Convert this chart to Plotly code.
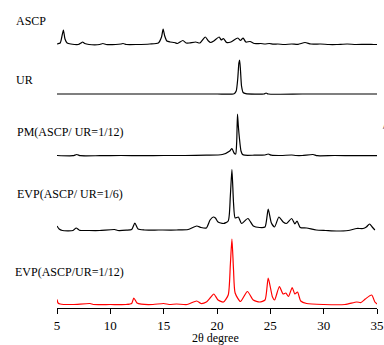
import plotly.graph_objects as go

# 2-theta (degree) and intensity (a.u.)
ascp_x = [5.0, 5.3, 5.45, 5.6, 5.75, 5.95, 6.3, 7.0, 7.25, 7.4, 7.6, 8.0, 9.0, 9.3, 9.6, 10.5, 11.0, 11.2, 11.5,
          12.5, 13.7, 14.5, 14.8, 14.95, 15.1, 15.3, 15.6, 16.0, 16.3, 16.8, 17.1, 17.4, 18.0, 18.4, 18.9, 19.2,
          19.4, 19.7, 20.2, 20.4, 20.6, 20.9, 21.3, 21.95, 22.2, 22.45, 22.7, 23.1, 23.5, 24.1, 24.5, 24.9, 25.3,
          25.7, 26.3, 27.0, 27.6, 28.25, 28.8, 29.7, 30.5, 31.2, 32.2, 33.0, 34.0, 34.7, 35.0]
ascp_y = [1, 2, 8, 15, 6, 2, 1, 0.5, 2, 3, 1.5, 0.5, 0.5, 1.5, 0.5, 0.5, 1, 1.5, 0.5,
          0.5, 1, 2, 8, 16, 9, 4, 3, 2.5, 1.5, 4.5, 2, 2, 3, 2, 8, 4,
          2.5, 4, 8, 5, 6.5, 2.5, 3, 7, 4.5, 7, 3, 3.5, 1.5, 1.5, 1, 1.5, 0.8,
          1, 0.5, 1, 0.7, 2.5, 1, 1, 0.5, 0.5, 1, 0.5, 0.7, 0.5, 0.5]

ur_x = [5.0, 8, 12, 16, 20, 21.6, 21.8, 21.95, 22.05, 22.12, 22.2, 22.3, 22.45, 22.7, 24.4, 24.6, 24.8, 28, 32, 35.0]
ur_y = [0, 0, 0, 0, 0, 0.3, 3, 16, 31, 34, 24, 8, 1.5, 0.3, 0, 1, 0, 0, 0, 0]

pm_x = [5.0, 6.5, 6.85, 7.2, 9, 11, 13, 15, 17, 19, 20.5, 21.2, 21.4, 21.6, 21.75, 21.85, 21.92, 22.0, 22.1,
        22.25, 22.4, 22.6, 23.5, 24.5, 24.8, 25.1, 26, 27, 27.4, 28, 29.0, 29.4, 31, 33, 35]
pm_y = [0.5, 0.3, 1.5, 0.3, 0.3, 0.5, 0.3, 0.5, 0.5, 0.8, 1.5, 5, 7.5, 3, 2, 15, 42, 30, 18,
        5, 1.5, 0.8, 0.8, 1, 2, 0.8, 0.5, 1, 0.5, 0.5, 1.5, 0.3, 0.5, 0.3, 0.3]

evp6_x = [5.0, 5.2, 5.5, 6.5, 6.8, 7.1, 8, 9, 10.4, 10.7, 11.5, 12.0, 12.3, 12.6, 13.2, 14.5, 16.2, 17.3, 18.1,
          18.5, 19.0, 19.35, 19.65, 19.85, 20.1, 20.6, 21.05, 21.25, 21.4, 21.55, 21.7, 22.0, 22.3, 22.9, 23.4,
          24.0, 24.5, 24.8, 25.1, 25.4, 25.8, 26.2, 26.5, 27.0, 27.3, 27.5, 27.8, 28.4, 29.3, 30.2, 31.2, 32.3,
          33.1, 33.7, 34.0, 34.3, 34.55, 34.8]
evp6_y = [5, 2, 0.5, 0.5, 3, 0.8, 0.5, 0.5, 1.5, 0.5, 0.8, 1.5, 8, 2, 1, 1, 1, 1.5, 5,
          3.5, 3, 11, 14, 13, 9, 7.5, 10, 35, 61.5, 28, 13, 14, 7.5, 12.5, 5,
          3.5, 4, 22, 8, 4, 14, 9, 7.5, 12.5, 7, 10, 3.5, 3, 1, 0.5, 0, 0.5,
          2.5, 2.5, 4, 7, 4, 1]

evp12_x = [5.0, 5.1, 5.3, 6.5, 8.1, 8.4, 10, 11.5, 12.0, 12.2, 12.5, 12.9, 14, 15.0, 15.5, 16.2, 17.2, 18.1,
           18.5, 19.0, 19.35, 19.7, 20.1, 20.6, 21.05, 21.25, 21.4, 21.55, 21.7, 22.2, 22.85, 23.4, 24.0, 24.5,
           24.8, 25.2, 25.4, 25.85, 26.2, 26.45, 26.7, 27.05, 27.3, 27.55, 27.85, 28.4, 30.0, 32, 33.1, 33.5,
           33.9, 34.5, 34.8, 35.0]
evp12_y = [5.5, 2, 1, 0.5, 1.5, 0.5, 0.5, 0.5, 1.5, 7, 2, 0.8, 0.5, 1.5, 0.5, 1, 0.5, 4,
           1.5, 3, 7, 11, 5, 3, 10, 40, 66, 35, 12, 3.5, 13.5, 5, 3, 5,
           27, 8, 5, 18.5, 11, 12, 8.5, 17.5, 11, 13, 4, 1.5, 0.5, 0.5, 3, 2.5,
           6, 10, 3, 1]

labels = ["ASCP", "UR", "PM(ASCP/ UR=1/12)", "EVP(ASCP/ UR=1/6)", "EVP(ASCP/UR=1/12)"]
x_ticks = [5, 10, 15, 20, 25, 30, 35]
x_title = "2θ degree"

W, H = 384, 345
ML, MR, MT, MB = 57, 7, 20, 37
PH = H - MT - MB
baseline_px = [45, 94, 156, 231, 305]
label_px = [(14, 21), (14, 80), (15, 132), (15, 194), (13, 272)]

series = [(ascp_x, ascp_y, "black"), (ur_x, ur_y, "black"), (pm_x, pm_y, "black"),
          (evp6_x, evp6_y, "black"), (evp12_x, evp12_y, "#ff0000")]

fig = go.Figure()
names = ["y5", "y4", "y3", "y2", "y"]
for i, ((xs, ys, col), lab) in enumerate(zip(series, labels)):
    fig.add_trace(go.Scatter(x=xs, y=ys, mode="lines", name=lab, yaxis=names[i],
                             line=dict(color=col, width=1.2, shape="spline", smoothing=0.6),
                             showlegend=False))

font_serif = "Liberation Serif, Times New Roman, serif"
bottom_px = H - MB
layout_axes = {}
for i, nm in enumerate(names):
    lo = -(bottom_px - baseline_px[i])
    ax = dict(range=[lo, lo + PH], visible=False, fixedrange=True, automargin=False)
    key = "yaxis" if nm == "y" else "yaxis" + nm[1:]
    if nm != "y":
        ax["overlaying"] = "y"
    layout_axes[key] = ax

plot_w = W - ML - MR
annotations = []
for lab, (px, py) in zip(labels, label_px):
    annotations.append(dict(text=lab, xref="paper", yref="paper",
                            x=(px - ML) / plot_w, y=(bottom_px - py) / PH,
                            xanchor="left", yanchor="middle", showarrow=False,
                            font=dict(family=font_serif, size=12, color="black")))
annotations.append(dict(text="/", xref="paper", yref="paper",
                        x=(381 - ML) / plot_w, y=(bottom_px - 125) / PH,
                        xanchor="left", yanchor="middle", showarrow=False,
                        font=dict(family=font_serif, size=11, color="black")))
annotations.append(dict(text=x_title, xref="paper", yref="paper",
                        x=(215 - ML) / plot_w, y=(bottom_px - 338) / PH,
                        xanchor="center", yanchor="middle", showarrow=False,
                        font=dict(family=font_serif, size=12, color="black")))

fig.update_layout(
    width=W, height=H, autosize=False,
    margin=dict(l=ML, r=MR, t=MT, b=MB, autoexpand=False),
    paper_bgcolor="white", plot_bgcolor="white",
    xaxis=dict(range=[5, 35], tickvals=x_ticks, ticktext=[str(t) for t in x_ticks],
               automargin=False,
               showline=True, linecolor="black", linewidth=1, ticks="outside", ticklen=5,
               tickcolor="black", showgrid=False, zeroline=False,
               tickfont=dict(family=font_serif, size=13, color="black")),
    annotations=annotations,
    **layout_axes,
)

fig.write_html("out.html", config={"responsive": False, "displayModeBar": False},
               post_script="document.body.style.margin='0';document.body.style.overflow='hidden';")
